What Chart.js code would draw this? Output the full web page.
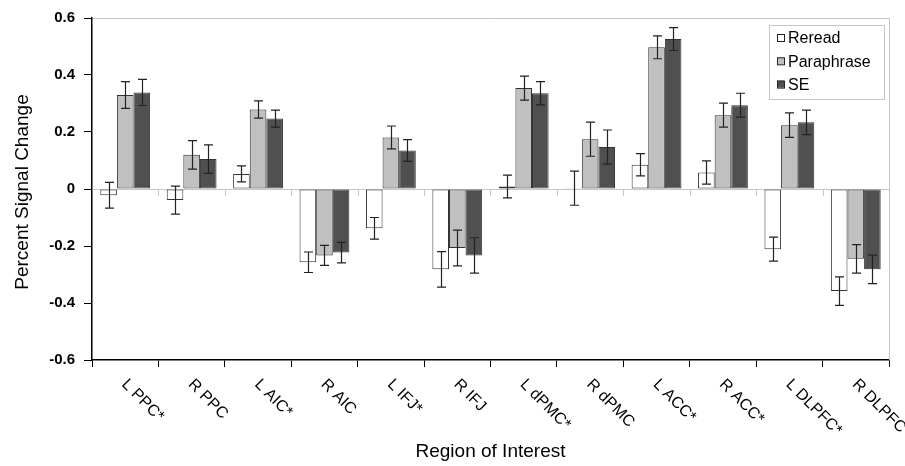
<!DOCTYPE html>
<html>
<head>
<meta charset="utf-8">
<script src="https://cdn.jsdelivr.net/npm/chart.js@4/dist/chart.umd.min.js"></script>
<style>
  html, body { margin: 0; padding: 0; background: #fff; }
  canvas { display: block; }
</style>
</head>
<body>
<canvas id="roiChart" width="905" height="466"></canvas>
<script>
// --- data ---
const regions = ["L PPC*", "R PPC", "L AIC*", "R AIC", "L IFJ*", "R IFJ",
  "L dPMC*", "R dPMC", "L ACC*", "R ACC*", "L DLPFC*", "R DLPFC"];

const reread     = [-0.022, -0.039, 0.053, -0.257, -0.138, -0.282, 0.009, 0.003, 0.085, 0.058, -0.211, -0.358];
const paraphrase = [0.330, 0.120, 0.279, -0.233, 0.181, -0.207, 0.354, 0.175, 0.497, 0.259, 0.224, -0.245];
const se         = [0.339, 0.105, 0.247, -0.223, 0.135, -0.233, 0.336, 0.147, 0.526, 0.294, 0.234, -0.282];

const rereadErr     = [0.045, 0.049, 0.028, 0.036, 0.038, 0.062, 0.040, 0.060, 0.039, 0.041, 0.042, 0.050];
const paraphraseErr = [0.047, 0.050, 0.030, 0.035, 0.040, 0.063, 0.042, 0.060, 0.040, 0.042, 0.043, 0.050];
const seErr         = [0.046, 0.050, 0.030, 0.036, 0.038, 0.062, 0.041, 0.060, 0.040, 0.042, 0.043, 0.050];

const yTicks = [-0.6, -0.4, -0.2, 0, 0.2, 0.4, 0.6];

const FONT = "'Liberation Sans', Arial, Helvetica, sans-serif";
const LIGHT = "#c6c6c6";

// error bars, axis titles, rotated region labels and the boxed legend
const decorations = {
  id: "decorations",
  beforeDatasetsDraw(chart) {
    const { ctx, chartArea, scales } = chart;
    const y0 = scales.y.getPixelForValue(0);
    ctx.save();
    ctx.strokeStyle = LIGHT;
    ctx.lineWidth = 1;
    // right border of plot frame
    ctx.beginPath();
    ctx.moveTo(chartArea.right + 0.5, chartArea.top);
    ctx.lineTo(chartArea.right + 0.5, chartArea.bottom);
    ctx.stroke();
    // little ticks under the zero line between regions
    for (let i = 1; i < regions.length; i++) {
      const x = Math.round((scales.x.getPixelForValue(i - 1) + scales.x.getPixelForValue(i)) / 2) + 0.5;
      ctx.beginPath();
      ctx.moveTo(x, y0);
      ctx.lineTo(x, y0 + 7);
      ctx.stroke();
    }
    ctx.restore();
  },
  afterDatasetsDraw(chart) {
    const { ctx, scales } = chart;
    const errs = [rereadErr, paraphraseErr, seErr];
    ctx.save();
    ctx.strokeStyle = "#222";
    ctx.lineWidth = 1.2;
    chart.data.datasets.forEach((ds, i) => {
      const meta = chart.getDatasetMeta(i);
      meta.data.forEach((bar, j) => {
        const v = ds.data[j];
        const e = errs[i][j];
        const x = Math.round(bar.x) + 0.5;
        const yt = scales.y.getPixelForValue(v + e);
        const yb = scales.y.getPixelForValue(v - e);
        ctx.beginPath();
        ctx.moveTo(x, yt); ctx.lineTo(x, yb);
        ctx.moveTo(x - 4.5, yt); ctx.lineTo(x + 4.5, yt);
        ctx.moveTo(x - 4.5, yb); ctx.lineTo(x + 4.5, yb);
        ctx.stroke();
      });
    });
    ctx.restore();
  },
  afterDraw(chart) {
    const { ctx, chartArea, scales } = chart;
    ctx.save();
    ctx.fillStyle = "#000";

    // rotated category labels
    ctx.font = "16px " + FONT;
    ctx.textAlign = "left";
    ctx.textBaseline = "middle";
    regions.forEach((r, i) => {
      const cx = scales.x.getPixelForValue(i);
      ctx.save();
      ctx.translate(cx - 1, chartArea.bottom + 22);
      ctx.rotate(Math.PI / 4);
      ctx.fillText(r, 0, 0);
      ctx.restore();
    });

    // axis titles
    ctx.font = "19px " + FONT;
    ctx.textAlign = "center";
    ctx.textBaseline = "middle";
    ctx.fillText("Region of Interest", (chartArea.left + chartArea.right) / 2, 452);
    ctx.save();
    ctx.translate(23, (chartArea.top + chartArea.bottom) / 2 + 3);
    ctx.rotate(-Math.PI / 2);
    ctx.fillText("Percent Signal Change", 0, 0);
    ctx.restore();

    // legend
    const bx = chartArea.right - 120, by = chartArea.top + 7, bw = 115, bh = 74;
    ctx.fillStyle = "#fff";
    ctx.fillRect(bx, by, bw, bh);
    ctx.strokeStyle = LIGHT;
    ctx.lineWidth = 1;
    ctx.strokeRect(bx + 0.5, by + 0.5, bw, bh);
    ctx.font = "16px " + FONT;
    ctx.textAlign = "left";
    chart.data.datasets.forEach((ds, i) => {
      const yy = by + 13 + i * 23.3;
      ctx.fillStyle = ds.backgroundColor;
      ctx.fillRect(bx + 8, yy - 4, 7, 7);
      ctx.strokeStyle = "#222";
      ctx.strokeRect(bx + 8.5, yy - 3.5, 7, 7);
      ctx.fillStyle = "#000";
      ctx.fillText(ds.label, bx + 19, yy + 1);
    });
    ctx.restore();
  }
};

new Chart(document.getElementById("roiChart"), {
  type: "bar",
  data: {
    labels: regions,
    datasets: [
      { label: "Reread", data: reread, backgroundColor: "#ffffff" },
      { label: "Paraphrase", data: paraphrase, backgroundColor: "#c0c0c0" },
      { label: "SE", data: se, backgroundColor: "#505050" }
    ].map(d => Object.assign(d, {
      borderColor: "#333",
      borderWidth: 1,
      borderSkipped: false,
      categoryPercentage: 0.75,
      barPercentage: 1
    }))
  },
  options: {
    responsive: false,
    animation: false,
    devicePixelRatio: 1,
    layout: { padding: { top: 16, right: 16, left: 0, bottom: 0 } },
    plugins: {
      legend: { display: false },
      tooltip: { enabled: false }
    },
    scales: {
      x: {
        grid: {
          offset: true,
          drawOnChartArea: false,
          tickColor: "#000",
          tickLength: 7
        },
        border: { color: "#000", width: 1.5 },
        ticks: { display: false },
        afterFit(scale) { scale.height = 106; }
      },
      y: {
        min: -0.6,
        max: 0.6,
        afterBuildTicks(scale) { scale.ticks = yTicks.map(v => ({ value: v })); },
        ticks: {
          color: "#000",
          padding: 9,
          font: { family: FONT, size: 15, weight: "bold" },
          callback: v => (Math.abs(v) < 1e-9 ? "0" : v.toFixed(1))
        },
        grid: {
          color: ctx => (Math.abs(ctx.tick.value) < 1e-9 || ctx.tick.value > 0.59 ? LIGHT : "transparent"),
          tickColor: "#000",
          tickLength: 8
        },
        border: { color: "#000", width: 1.5 },
        afterFit(scale) { scale.width = 92; }
      }
    }
  },
  plugins: [decorations]
});
</script>
</body>
</html>
